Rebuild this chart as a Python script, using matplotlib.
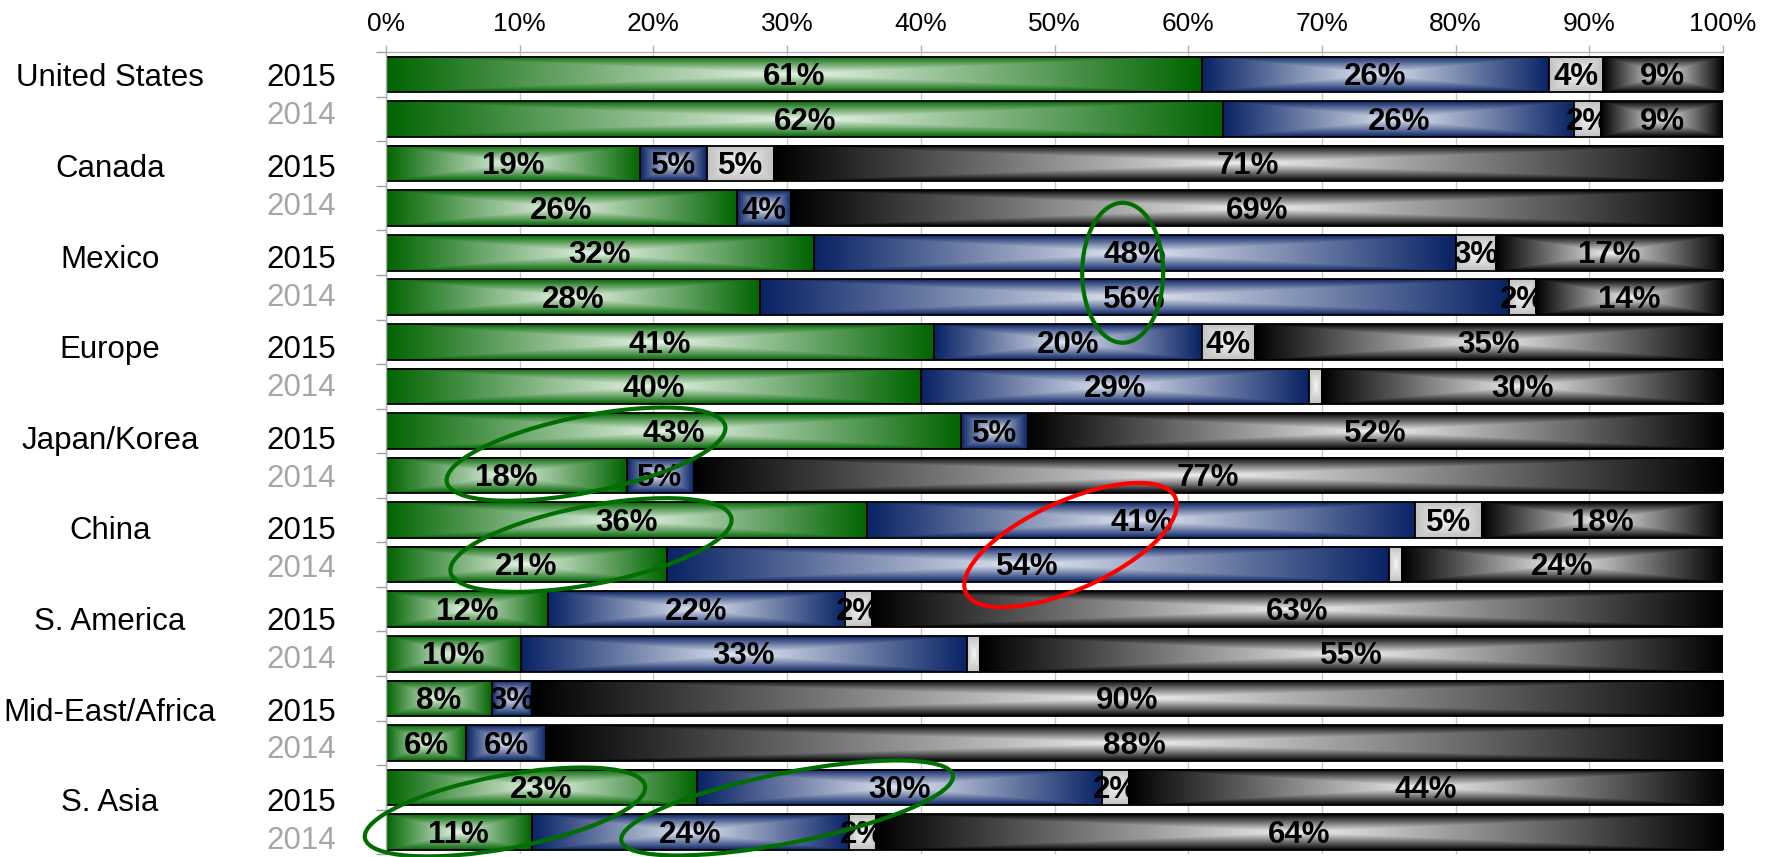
import numpy as np
import matplotlib
matplotlib.use("Agg")
import matplotlib.pyplot as plt
from matplotlib.patches import Rectangle, Ellipse
from matplotlib.transforms import IdentityTransform, ScaledTranslation, blended_transform_factory

# ---- data -------------------------------------------------------------
regions = ["United States", "Canada", "Mexico", "Europe", "Japan/Korea",
           "China", "S. America", "Mid-East/Africa", "S. Asia"]
years = ["2015", "2014"]

# shares per row (rows ordered region by region, 2015 then 2014)
green = [61, 62, 19, 26, 32, 28, 41, 40, 43, 18, 36, 21, 12, 10, 8, 6, 23, 11]
blue = [26, 26, 5, 4, 48, 56, 20, 29, 5, 5, 41, 54, 22, 33, 3, 6, 30, 24]
gray = [4, 2, 5, 0, 3, 2, 4, 1, 0, 0, 5, 1, 2, 1, 0, 0, 2, 2]
black = [9, 9, 71, 69, 17, 14, 35, 30, 52, 77, 18, 24, 63, 55, 90, 88, 44, 64]

xticks = [0, 10, 20, 30, 40, 50, 60, 70, 80, 90, 100]

# ---- styling ----------------------------------------------------------
plt.rcParams['font.family'] = ['Liberation Sans', 'DejaVu Sans']

series = [green, blue, gray, black]
center_rgb = [(236, 246, 236), (228, 233, 243), (246, 246, 246), (242, 242, 242)]
edge_rgb = [(0, 100, 0), (8, 34, 100), (192, 192, 192), (0, 0, 0)]

W, H, DPI = 1773, 857, 100
fig = plt.figure(figsize=(W / DPI, H / DPI), dpi=DPI)
ax_left, ax_right, ax_top, ax_bottom = 386, 1723, 52.2, 854.3
ax = fig.add_axes([ax_left / W, (H - ax_bottom) / H,
                   (ax_right - ax_left) / W, (ax_bottom - ax_top) / H])

n = len(green)
bar_h = 0.8
px_x = (ax_right - ax_left) / 100.0
px_y = (ax_bottom - ax_top) / n
text_dy = 0.06  # nudges digits onto the optical centre of each row


def rect_gradient(w_px, h_px, c_center, c_edge):
    """Rectangular 'from centre' gradient for one bar segment."""
    nx = max(int(round(w_px)), 4)
    ny = max(int(round(h_px)), 4)
    u = (np.arange(nx) + 0.5) / nx * 2 - 1
    v = (np.arange(ny) + 0.5) / ny * 2 - 1
    t = np.maximum(np.abs(u)[None, :], np.abs(v)[:, None])
    c0 = np.array(c_center, float) / 255
    c1 = np.array(c_edge, float) / 255
    return c0 + (c1 - c0) * t[..., None]


totals = np.sum(np.array(series, float), axis=0)
left = np.zeros(n)
for k, vals in enumerate(series):
    vals = np.asarray(vals, float)
    widths = vals / totals * 100
    z = 2 + k
    for i in range(n):
        if vals[i] <= 0:
            continue
        x0, w = left[i], widths[i]
        img = rect_gradient(w * px_x, bar_h * px_y, center_rgb[k], edge_rgb[k])
        ax.imshow(img, extent=(x0, x0 + w, i + bar_h / 2, i - bar_h / 2),
                  aspect='auto', interpolation='bilinear', zorder=z)
        ax.add_patch(Rectangle((x0, i - bar_h / 2), w, bar_h, fill=False,
                               ec='black', lw=1.3, zorder=z + 0.1))
        if vals[i] >= 2:
            ax.text(x0 + w / 2, i + text_dy, f"{int(vals[i])}%", ha='center',
                    va='center', fontsize=22.5, fontweight='bold',
                    color='black', zorder=z + 0.2)
    left += widths

ax.set_xlim(0, 100)
ax.set_ylim(n - 0.5, -0.5)

# axes, ticks and grid
ax.xaxis.tick_top()
ax.set_xticks(xticks)
ax.set_xticklabels([f"{t}%" for t in xticks])
ax.tick_params(axis='x', length=5, width=1, color='#b0b0b0', pad=7,
               labelsize=19, labelcolor='black')
ax.set_yticks(np.arange(-0.5, n, 1.0))
ax.tick_params(axis='y', length=7.5, width=1, color='#a0a0a0', labelleft=False)
ax.grid(axis='x', color='#c8c8c8', lw=1.0)
ax.set_axisbelow(True)
for side in ('right', 'bottom'):
    ax.spines[side].set_visible(False)
for side in ('top', 'left'):
    ax.spines[side].set_color('#b0b0b0')
    ax.spines[side].set_linewidth(1.0)

# category labels (label block runs on a slightly wider pitch than the bars)
label_pitch = 2.0326
lab_tr = blended_transform_factory(ax.transAxes, ax.transData)
for r, name in enumerate(regions):
    y15 = 0.03 + r * label_pitch + text_dy
    y14 = 0.88 + r * label_pitch + text_dy
    ax.text(-0.2064, y15, name, transform=lab_tr, ha='center', va='center',
            fontsize=22.5, color='black')
    ax.text(-0.0632, y15, years[0], transform=lab_tr, ha='center', va='center',
            fontsize=22.5, color='black')
    ax.text(-0.0632, y14, years[1], transform=lab_tr, ha='center',
            va='center', fontsize=22.5, color='#a6a6a6')

# highlight rings: centre (x %, row), width/height in px, angle, colour
rings = [
    (55.1, 4.45, 81, 140, 0.0, '#006e00'),
    (14.96, 8.52, 284, 76, 11.4, '#006e00'),
    (15.33, 10.56, 286, 78, 10.9, '#006e00'),
    (51.2, 10.56, 230, 88, 24.4, '#ff0000'),
    (8.9, 16.55, 285, 73, 10.6, '#006e00'),
    (30.0, 16.46, 338, 70, 11.2, '#006e00'),
]
for cx, cy, w, h, ang, col in rings:
    tr = IdentityTransform() + ScaledTranslation(cx, cy, ax.transData)
    ax.add_patch(Ellipse((0, 0), w, h, angle=ang, transform=tr, fill=False,
                         ec=col, lw=3.0, zorder=10, clip_on=False))

fig.savefig("out.png", dpi=DPI)
